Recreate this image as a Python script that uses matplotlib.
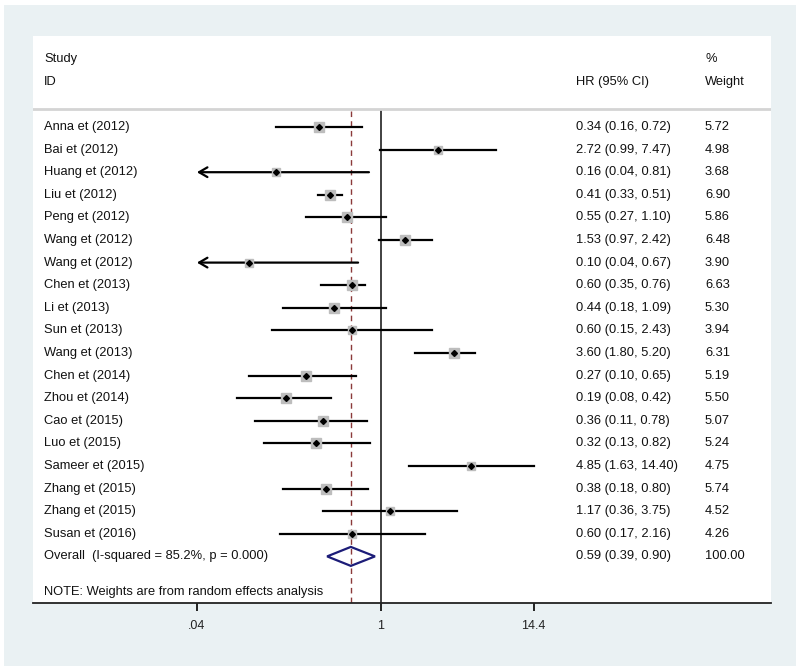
import numpy as np
import matplotlib
matplotlib.use("Agg")
import matplotlib.pyplot as plt
from matplotlib.patches import Rectangle, Polygon
from matplotlib.transforms import blended_transform_factory

plt.rcParams['font.family'] = ['Liberation Sans', 'DejaVu Sans']

studies = ["Anna et (2012)", "Bai et (2012)", "Huang et (2012)", "Liu et (2012)",
           "Peng et (2012)", "Wang et (2012)", "Wang et (2012)", "Chen et (2013)",
           "Li et (2013)", "Sun et (2013)", "Wang et (2013)", "Chen et (2014)",
           "Zhou et (2014)", "Cao et (2015)", "Luo et (2015)", "Sameer et (2015)",
           "Zhang et (2015)", "Zhang et (2015)", "Susan et (2016)"]
hr = [0.34, 2.72, 0.16, 0.41, 0.55, 1.53, 0.10, 0.60, 0.44, 0.60, 3.60, 0.27,
      0.19, 0.36, 0.32, 4.85, 0.38, 1.17, 0.60]
lo = [0.16, 0.99, 0.04, 0.33, 0.27, 0.97, 0.04, 0.35, 0.18, 0.15, 1.80, 0.10,
      0.08, 0.11, 0.13, 1.63, 0.18, 0.36, 0.17]
hi = [0.72, 7.47, 0.81, 0.51, 1.10, 2.42, 0.67, 0.76, 1.09, 2.43, 5.20, 0.65,
      0.42, 0.78, 0.82, 14.40, 0.80, 3.75, 2.16]
weight = [5.72, 4.98, 3.68, 6.90, 5.86, 6.48, 3.90, 6.63, 5.30, 3.94, 6.31, 5.19,
          5.50, 5.07, 5.24, 4.75, 5.74, 4.52, 4.26]
overall_label = "Overall  (I-squared = 85.2%, p = 0.000)"
overall = (0.59, 0.39, 0.90)
overall_weight = "100.00"
xticks = [0.04, 1, 14.4]
xticklabels = [".04", "1", "14.4"]

W, H = 800, 670
fig = plt.figure(figsize=(8, 6.7), dpi=100, facecolor='white')
fig.patches.append(Rectangle((4 / W, 4 / H), 792 / W, 661 / H, transform=fig.transFigure,
                             facecolor='#eaf1f3', edgecolor='none', zorder=-10))

# plot panel in pixels
px0, px1, py0, py1 = 33, 771, 36, 603
ax = fig.add_axes([px0 / W, 1 - py1 / H, (px1 - px0) / W, (py1 - py0) / H])
ax.set_facecolor('white')

# x: pixel 381 is HR=1, 57.2 px per ln unit
k = 57.2
ax.set_xscale('log')
ax.set_xlim(np.exp((px0 - 381) / k), np.exp((px1 - 381) / k))
# y: row 0 at pixel 127, 22.6 px per row
ax.set_ylim((py1 - 127) / 22.6, (py0 - 127) / 22.6)

for s in ['top', 'left', 'right']:
    ax.spines[s].set_visible(False)
ax.spines['bottom'].set_color('#222222')
ax.spines['bottom'].set_linewidth(1.3)
ax.set_yticks([])
ax.set_xticks(xticks)
ax.set_xticklabels(xticklabels, fontsize=9, color='#222222')
ax.xaxis.set_minor_locator(matplotlib.ticker.NullLocator())
ax.tick_params(axis='x', length=6, width=1.2, pad=6)

ybot = (py1 - 127) / 22.6
ysep = (109 - 127) / 22.6
ax.plot([1, 1], [ysep + 0.1, ybot], color='#333333', lw=1.3, zorder=1)
ax.plot([overall[0], overall[0]], [ysep + 0.1, ybot], color='#8b3a3a', lw=1,
        ls=(0, (4, 3)), zorder=1)

xmin = 0.04
for i in range(len(studies)):
    if lo[i] <= xmin:
        ax.annotate('', xy=(xmin, i), xytext=(hi[i], i),
                    arrowprops=dict(arrowstyle='->,head_length=0.6,head_width=0.35',
                                    lw=1.6, color='black', shrinkA=0, shrinkB=0))
    else:
        ax.plot([lo[i], hi[i]], [i, i], color='black', lw=1.6, zorder=2)
    ax.plot(hr[i], i, marker='s', ms=2.9 * np.sqrt(weight[i]), color='#bdbdbd',
            mec='#bdbdbd', zorder=3)
    ax.plot(hr[i], i, marker='D', ms=3.0, color='black', zorder=4)

yo = len(studies)
dia = Polygon([(overall[1], yo), (overall[0], yo - 0.42), (overall[2], yo),
               (overall[0], yo + 0.42)], closed=True, fill=False,
              edgecolor='#1c1c78', lw=1.6, zorder=4)
ax.add_patch(dia)

# text columns
tr = blended_transform_factory(fig.transFigure, ax.transData)
fs = 9.3
xs, xh, xw = 44 / W, 576 / W, 705 / W
for i in range(len(studies)):
    ax.text(xs, i, studies[i], transform=tr, fontsize=fs, va='center', color='#111111')
    ax.text(xh, i, "%.2f (%.2f, %.2f)" % (hr[i], lo[i], hi[i]), transform=tr,
            fontsize=fs, va='center', color='#111111')
    ax.text(xw, i, "%.2f" % weight[i], transform=tr, fontsize=fs, va='center',
            color='#111111')
ax.text(xs, yo, overall_label, transform=tr, fontsize=fs, va='center', color='#111111')
ax.text(xh, yo, "%.2f (%.2f, %.2f)" % overall, transform=tr, fontsize=fs, va='center',
        color='#111111')
ax.text(xw, yo, overall_weight, transform=tr, fontsize=fs, va='center', color='#111111')
ax.text(xs, (592 - 127) / 22.6, "NOTE: Weights are from random effects analysis",
        transform=tr, fontsize=fs, va='center', color='#111111')

yh1 = (59 - 127) / 22.6
yh2 = (82 - 127) / 22.6
ax.text(xs, yh1, "Study", transform=tr, fontsize=fs, va='center', color='#111111')
ax.text(xs, yh2, "ID", transform=tr, fontsize=fs, va='center', color='#111111')
ax.text(xh, yh2, "HR (95% CI)", transform=tr, fontsize=fs, va='center', color='#111111')
ax.text(xw, yh1, "%", transform=tr, fontsize=fs, va='center', color='#111111')
ax.text(xw, yh2, "Weight", transform=tr, fontsize=fs, va='center', color='#111111')

ax.axhline(ysep, color='#d4d4d4', lw=2)

fig.savefig("out.png", dpi=100, facecolor=fig.get_facecolor())
